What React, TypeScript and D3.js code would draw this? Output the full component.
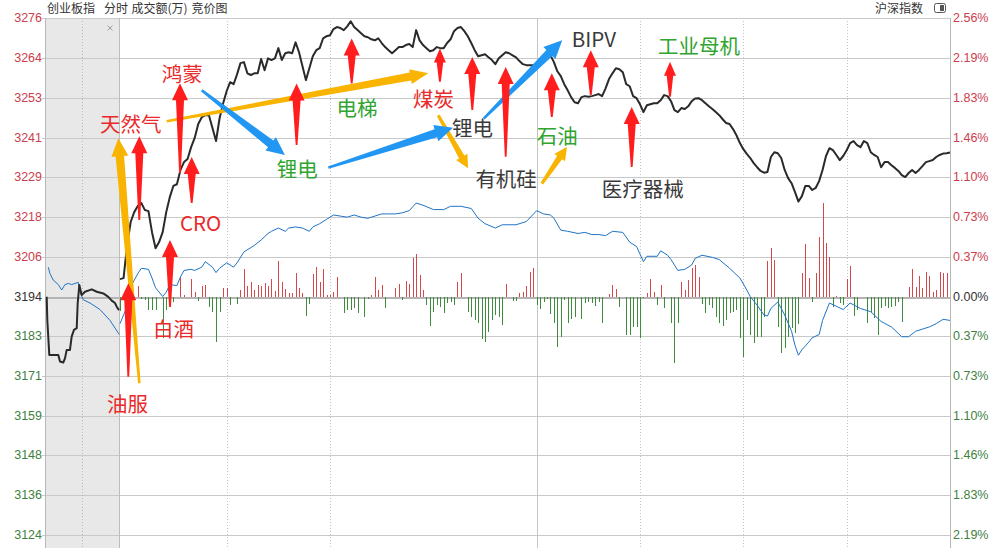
import React from "react";
import * as d3 from "d3";

const WIDTH = 999;
const HEIGHT = 548;
const PRE_CLOSE = 3194.2;
const GRID_STEP_PCT = 2.56 / 7;

const TICK_LEVELS = [7, 6, 5, 4, 3, 2, 1, 0, -1, -2, -3, -4, -5, -6];
const LEFT_TICK_LABELS = ["3276", "3264", "3253", "3241", "3229", "3218", "3206", "3194", "3183", "3171", "3159", "3148", "3136", "3124"];
const RIGHT_TICK_LABELS = ["2.56%", "2.19%", "1.83%", "1.46%", "1.10%", "0.73%", "0.37%", "0.00%", "0.37%", "0.73%", "1.10%", "1.46%", "1.83%", "2.19%"];

const HEADER_LEFT = ["创业板指", "分时", "成交额(万)", "竞价图"];
const HEADER_RIGHT = "沪深指数";

// 9:30 - 15:00, one value per minute (index = minutes since open)
const PRICE = [
  3199.3, 3199.6, 3209.3, 3216.1, 3219.0, 3220.8, 3221.7, 3219.6, 3219.3, 3213.1,
  3208.4, 3210.2, 3213.1, 3219.0, 3223.4, 3226.7, 3227.2, 3231.4, 3233.7, 3234.6,
  3238.1, 3240.8, 3244.9, 3246.9, 3247.5, 3247.5, 3243.7, 3239.9, 3246.6, 3251.0,
  3254.6, 3257.2, 3256.6, 3259.5, 3262.8, 3263.1, 3259.8, 3259.3, 3259.8, 3259.8,
  3264.0, 3260.7, 3264.2, 3263.7, 3264.2, 3267.2, 3263.7, 3265.7, 3266.0, 3265.7,
  3268.9, 3266.0, 3261.9, 3257.8, 3261.3, 3264.8, 3266.6, 3267.2, 3270.1, 3270.7,
  3271.0, 3272.8, 3273.4, 3273.1, 3272.5, 3273.6, 3275.1, 3273.4, 3272.5, 3271.6,
  3270.7, 3270.4, 3269.8, 3269.5, 3270.1, 3268.7, 3267.5, 3266.6, 3265.7, 3266.6,
  3267.5, 3267.5, 3268.1, 3268.4, 3267.5, 3272.5, 3269.5, 3268.1, 3267.2, 3266.3,
  3266.6, 3267.5, 3267.2, 3267.2, 3268.7, 3269.8, 3272.2, 3273.1, 3273.4, 3272.2,
  3270.7, 3268.7, 3266.6, 3264.8, 3265.1, 3265.4, 3264.5, 3263.7, 3262.5, 3264.2,
  3265.1, 3266.0, 3265.7, 3265.1, 3264.5, 3263.4, 3262.5, 3262.2, 3262.2, 3262.2,
  3262.5, 3263.9, 3264.2, 3264.5, 3265.1, 3263.1, 3260.4, 3259.0, 3256.6, 3254.8,
  3252.8, 3251.3, 3251.0, 3252.8, 3253.1, 3252.9, 3253.1, 3253.4, 3253.7, 3253.1,
  3255.4, 3258.1, 3259.8, 3261.3, 3261.0, 3260.1, 3256.6, 3256.0, 3253.1, 3252.5,
  3250.7, 3248.4, 3250.4, 3250.7, 3251.0, 3251.0, 3251.9, 3253.4, 3253.1, 3251.6,
  3249.0, 3248.4, 3249.6, 3249.3, 3250.1, 3251.6, 3252.4, 3252.5, 3251.9, 3251.0,
  3250.1, 3249.3, 3248.4, 3247.5, 3246.3, 3245.2, 3244.9, 3243.4, 3241.6, 3239.3,
  3237.5, 3236.1, 3234.9, 3233.4, 3232.2, 3231.1, 3230.6, 3230.8, 3235.2, 3236.6,
  3236.3, 3234.9, 3231.4, 3229.0, 3227.5, 3224.9, 3222.1, 3223.7, 3226.7, 3226.7,
  3225.5, 3226.1, 3228.1, 3231.4, 3235.5, 3237.8, 3237.2, 3235.8, 3234.3, 3235.5,
  3237.2, 3239.3, 3239.9, 3238.7, 3238.1, 3239.9, 3239.3, 3236.6, 3235.8, 3235.2,
  3232.2, 3233.7, 3233.7, 3232.8, 3232.0, 3231.1, 3229.9, 3229.3, 3230.5, 3231.4,
  3230.5, 3231.4, 3232.5, 3233.7, 3234.0, 3234.3, 3235.2, 3235.8, 3236.2, 3236.3,
  3236.5,
];

// call auction 9:15 - 9:25 (minutes since 9:15)
const AUCTION_T = [0.23, 0.31, 0.58, 1.79, 2.02, 2.46, 2.69, 2.92, 3.36, 3.59, 3.9, 4.27, 4.4, 4.62, 4.94, 5.38, 6.29, 6.97, 7.85, 8.52, 8.98, 9.42, 9.65, 9.96];
const AUCTION_PRICE = [3194.1, 3187.3, 3177.0, 3177.0, 3175.1, 3174.8, 3176.0, 3178.5, 3178.5, 3182.4, 3184.4, 3184.9, 3192.2, 3197.6, 3194.6, 3195.6, 3196.3, 3195.6, 3195.1, 3194.1, 3193.0, 3192.3, 3191.2, 3190.2];

// reference index (沪深) change in %, auction and session
const AUCTION_REF_T = [0.44, 0.67, 1.12, 1.79, 2.25, 2.69, 3.14, 3.59, 4.04, 4.48, 4.71, 5.15, 6.06, 7.4, 8.75, 10];
const AUCTION_REF_PCT = [0.27, 0.21, 0.15, 0.11, 0.06, 0.11, 0.12, 0.11, 0.12, 0.13, 0.04, -0.03, -0.06, -0.12, -0.22, -0.35];

const REF_MIN = [0, 2, 3, 5, 6, 8, 9, 10, 12, 13, 14, 16, 17, 18, 20, 21, 23, 24, 26, 27, 28, 30, 32, 33, 35, 38, 40, 42, 43, 45, 47, 48, 50, 52, 54, 55, 57, 59, 61, 63, 65, 67, 69, 71, 73, 75, 77, 79, 81, 83, 85, 87, 90, 93, 95, 98, 101, 103, 105, 108, 110, 114, 117, 120, 122, 124, 125, 127, 129, 132, 134, 136, 138, 140, 142, 145, 147, 149, 151, 152, 155, 156, 158, 159, 161, 163, 165, 166, 168, 171, 173, 176, 179, 181, 182, 184, 186, 187, 188, 190, 192, 194, 195, 196, 197, 199, 200, 202, 203, 205, 207, 209, 211, 214, 217, 220, 223, 226, 228, 230, 234, 236, 238, 240];
const REF_PCT = [-0.25, -0.09, 0.09, 0.21, 0.26, 0.25, 0.17, 0.08, 0.0, 0.04, 0.11, 0.1, 0.18, 0.24, 0.25, 0.24, 0.27, 0.32, 0.27, 0.22, 0.26, 0.31, 0.27, 0.31, 0.41, 0.47, 0.52, 0.58, 0.6, 0.63, 0.6, 0.63, 0.64, 0.63, 0.6, 0.64, 0.67, 0.71, 0.75, 0.74, 0.73, 0.75, 0.73, 0.72, 0.74, 0.76, 0.76, 0.76, 0.77, 0.79, 0.86, 0.84, 0.8, 0.8, 0.83, 0.83, 0.81, 0.72, 0.67, 0.63, 0.66, 0.66, 0.69, 0.79, 0.76, 0.75, 0.72, 0.61, 0.6, 0.58, 0.59, 0.57, 0.57, 0.56, 0.6, 0.59, 0.5, 0.46, 0.32, 0.37, 0.37, 0.42, 0.38, 0.34, 0.24, 0.25, 0.29, 0.35, 0.38, 0.36, 0.34, 0.26, 0.17, 0.06, 0.0, -0.08, -0.17, -0.18, -0.11, -0.05, -0.17, -0.32, -0.45, -0.54, -0.49, -0.42, -0.38, -0.35, -0.22, -0.06, -0.09, -0.12, -0.06, -0.11, -0.14, -0.23, -0.28, -0.37, -0.37, -0.32, -0.28, -0.25, -0.21, -0.22];

// per-minute net amount bars [minute, value]
const FLOW: [number, number][] = [
  [0, -140], [5, 110], [6, -27], [7, -33], [8, -133], [9, -133], [10, -133], [12, -417], [13, -133], [14, -50], [15, -50],
  [17, 200], [18, 20], [20, 177], [21, 50], [22, -40], [23, 107], [24, 117], [25, -100], [26, -150], [27, -450], [28, -150],
  [29, 90], [30, 90], [31, -83], [33, -73], [34, 67], [35, 273], [36, 107], [37, 150], [38, 67], [39, 117], [40, 107],
  [41, 133], [42, 107], [43, 177], [44, 57], [45, 357], [46, 150], [47, 73], [48, 33], [49, 33], [50, 240], [51, 83],
  [52, 40], [53, -193], [54, -73], [55, 227], [56, 293], [57, 150], [58, 273], [59, 15], [60, 15], [61, 50], [62, 200],
  [64, -167], [65, -133], [66, -133], [67, -117], [68, -167], [70, -200], [71, -27], [72, 15], [73, 193], [74, 67],
  [75, 113], [76, -110], [79, 83], [80, 127], [81, -33], [82, 157], [83, 123], [84, 390], [85, 427], [86, 217], [87, 67],
  [88, -83], [89, -293], [90, -150], [91, -83], [92, -100], [93, -160], [94, -67], [95, -50], [96, -83], [97, 150],
  [98, 233], [100, -150], [101, -200], [102, -233], [103, -267], [104, -427], [105, -450], [106, -350], [107, -233],
  [108, -183], [109, -200], [110, -283], [111, 123], [113, -40], [114, -40], [115, 33], [116, 50], [117, 107], [118, 250],
  [119, 290], [120, -83], [121, -127], [122, -50], [123, -23], [124, -173], [125, -267], [126, -507], [127, -400],
  [128, -33], [129, -260], [130, -227], [131, -200], [133, -227], [134, -60], [135, -50], [136, -67], [137, -93],
  [138, -50], [139, -260], [141, 23], [142, 117], [143, 77], [144, -100], [146, -383], [147, -383], [148, -300],
  [149, -300], [150, -417], [151, -15], [152, 40], [153, 177], [154, 50], [155, -83], [156, 117], [157, -117], [159, -260],
  [160, -667], [161, -267], [162, 150], [163, 67], [164, 167], [165, 283], [166, 317], [167, 193], [168, -73], [169, -167],
  [170, -83], [171, -117], [172, -200], [173, -267], [174, -293], [175, -233], [176, -167], [177, -150], [178, -133],
  [179, -417], [180, -607], [181, -233], [182, -383], [183, -460], [184, -400], [185, -400], [186, -207], [187, 357],
  [188, 483], [189, 367], [190, -307], [191, -560], [192, -517], [193, -400], [194, -317], [195, -367], [196, -273],
  [197, 240], [198, 527], [199, 190], [200, -50], [201, 240], [202, 600], [203, 940], [204, 540], [205, 400], [206, -100],
  [207, 10], [208, -67], [209, -83], [210, 177], [211, 307], [212, -193], [213, -133], [216, -267], [217, -150],
  [218, -217], [219, -383], [220, -117], [221, -93], [222, -117], [223, -100], [224, -93], [225, -50], [226, -250],
  [228, 100], [229, 277], [230, 100], [231, 207], [232, 83], [233, 250], [234, 207], [235, 50], [236, 67], [237, 243],
  [238, 240], [239, 240],
];

// annotations, anchored in (minute, price)
const UP_ARROWS: [number, number, number][] = [
  [2.33, 3198.1, 3170.6], [5.43, 3241.3, 3216.7], [16.87, 3256.9, 3230.5], [20.16, 3235.2, 3221.7],
  [14.06, 3210.8, 3191.1], [50.3, 3256.8, 3238.7], [66.3, 3270.0, 3256.8], [91.9, 3267.1, 3257.3],
  [101.3, 3264.6, 3249.0], [111.0, 3261.7, 3235.3], [124.4, 3259.8, 3247.0], [135.7, 3266.6, 3253.4],
  [147.6, 3249.9, 3232.3], [158.7, 3263.2, 3252.9],
];

type Trend = { kind: "yellow" | "blue"; size: "big" | "mid" | "small"; from: [number, number]; to: [number, number] };
const TREND_ARROWS: Trend[] = [
  { kind: "yellow", size: "big", from: [5.43, 3168.7], to: [-0.48, 3240.7] },
  { kind: "yellow", size: "mid", from: [13.13, 3245.7], to: [88.5, 3259.8] },
  { kind: "yellow", size: "small", from: [91.4, 3247.5], to: [100.1, 3231.9] },
  { kind: "yellow", size: "small", from: [121.5, 3227.4], to: [128.8, 3238.2] },
  { kind: "blue", size: "big", from: [22.97, 3254.8], to: [46.9, 3235.8] },
  { kind: "blue", size: "big", from: [59.5, 3232.1], to: [95.7, 3243.8] },
  { kind: "blue", size: "big", from: [104.6, 3246.5], to: [127.4, 3269.5] },
];

type Label = { text: string; tone: "red" | "green" | "dark"; m: number; p: number };
const LABELS: Label[] = [
  { text: "天然气", tone: "red", m: -5.62, p: 3245.3 },
  { text: "鸿蒙", tone: "red", m: 11.72, p: 3259.8 },
  { text: "CRO", tone: "red", m: 16.87, p: 3216.2 },
  { text: "白酒", tone: "red", m: 9.28, p: 3185.0 },
  { text: "油服", tone: "red", m: -3.65, p: 3162.9 },
  { text: "锂电", tone: "green", m: 44.5, p: 3231.9 },
  { text: "电梯", tone: "green", m: 61.9, p: 3249.9 },
  { text: "煤炭", tone: "red", m: 84.1, p: 3252.5 },
  { text: "锂电", tone: "dark", m: 95.4, p: 3244.1 },
  { text: "有机硅", tone: "dark", m: 102.2, p: 3229.0 },
  { text: "石油", tone: "green", m: 120.0, p: 3241.6 },
  { text: "BIPV", tone: "dark", m: 130.2, p: 3270.3 },
  { text: "工业母机", tone: "green", m: 155.2, p: 3268.1 },
  { text: "医疗器械", tone: "dark", m: 138.9, p: 3226.1 },
];

const DOTTED_MINUTES = [30, 60, 150, 180, 210];
const SOLID_MINUTES = [120];

const TONE: Record<string, string> = { red: "#ea2a2a", green: "#2fa52f", dark: "#3a3a3a" };
const ARROW_FILL: Record<string, string> = { red: "#ff1d1d", yellow: "#f8b400", blue: "#2196f3" };
const ARROW_SIZE: Record<string, number[]> = {
  big: [2.5, 8.5, 17, 18],
  mid: [2.5, 8, 15, 18],
  small: [3, 6, 13, 13],
};

function arrowPath(x0: number, y0: number, x1: number, y1: number, tw: number, nw: number, hw: number, hl: number) {
  const dx = x1 - x0, dy = y1 - y0;
  const len = Math.hypot(dx, dy);
  const ux = dx / len, uy = dy / len;
  const nx = -uy, ny = ux;
  const bx = x1 - ux * hl, by = y1 - uy * hl;
  const pts = [
    [x0 + (nx * tw) / 2, y0 + (ny * tw) / 2],
    [bx + (nx * nw) / 2, by + (ny * nw) / 2],
    [bx + (nx * hw) / 2, by + (ny * hw) / 2],
    [x1, y1],
    [bx - (nx * hw) / 2, by - (ny * hw) / 2],
    [bx - (nx * nw) / 2, by - (ny * nw) / 2],
    [x0 - (nx * tw) / 2, y0 - (ny * tw) / 2],
  ];
  return "M" + pts.map((p) => p[0].toFixed(1) + "," + p[1].toFixed(1)).join("L") + "Z";
}

export default function App() {
  const left = 45;
  const right = 950;
  const top = 18.3;
  const x = d3.scaleLinear().domain([0, 30, 240]).range([120, 226.7, 950]);
  const xa = d3.scaleLinear().domain([0, 10]).range([left, 119.3]);
  const y = d3.scaleLinear().domain([-2.56, 2.56]).range([574.7, top]);
  const pct = (p: number) => (p / PRE_CLOSE - 1) * 100;
  const yp = (p: number) => y(pct(p));
  const barH = d3.scaleLinear().domain([0, 1000]).range([0, 100]);
  const y0 = y(0);

  const priceLine = d3.line<number>().x((_, i) => x(i)).y((d) => yp(d))(PRICE) || "";
  const auctionLine = d3.line<number>().x((_, i) => xa(AUCTION_T[i])).y((d) => yp(d))(AUCTION_PRICE) || "";
  const refLine = d3.line<number>().x((_, i) => x(REF_MIN[i])).y((d) => y(d))(REF_PCT) || "";
  const auctionRefLine = d3.line<number>().x((_, i) => xa(AUCTION_REF_T[i])).y((d) => y(d))(AUCTION_REF_PCT) || "";

  const sans = "'Liberation Sans', Arial, sans-serif";
  const cjk = "'Noto Sans CJK SC', 'Noto Sans', sans-serif";

  return (
    <svg
      width={WIDTH}
      height={HEIGHT}
      viewBox={`0 0 ${WIDTH} ${HEIGHT}`}
      style={{ position: "absolute", left: 0, top: 0, background: "#fff" }}
    >
      {/* auction background */}
      <rect x={left} y={top} width={xa(10) - left} height={HEIGHT - top} fill="#e8e8e8" />

      {/* horizontal grid */}
      {TICK_LEVELS.map((k) => (
        <line
          key={"h" + k}
          x1={k === 0 ? left : left - 3}
          x2={right}
          y1={Math.round(y(k * GRID_STEP_PCT)) + 0.5}
          y2={Math.round(y(k * GRID_STEP_PCT)) + 0.5}
          stroke={k === 0 ? "#b4b4b4" : "#c9c9c9"}
          strokeWidth={k === 0 ? 2 : 1}
          shapeRendering="crispEdges"
        />
      ))}

      {/* vertical grid */}
      <line x1={Math.round(xa(5)) + 0.5} x2={Math.round(xa(5)) + 0.5} y1={top} y2={HEIGHT} stroke="#b8b8b8" strokeDasharray="1,2" shapeRendering="crispEdges" />
      <line x1={Math.round(xa(10)) + 0.5} x2={Math.round(xa(10)) + 0.5} y1={top} y2={HEIGHT} stroke="#bdbdbd" shapeRendering="crispEdges" />
      {DOTTED_MINUTES.map((m) => (
        <line key={"v" + m} x1={Math.round(x(m)) + 0.5} x2={Math.round(x(m)) + 0.5} y1={top} y2={HEIGHT} stroke="#c4c4c4" strokeDasharray="1,2" shapeRendering="crispEdges" />
      ))}
      {SOLID_MINUTES.map((m) => (
        <line key={"s" + m} x1={Math.round(x(m)) + 0.5} x2={Math.round(x(m)) + 0.5} y1={top} y2={HEIGHT} stroke="#c4c4c4" shapeRendering="crispEdges" />
      ))}
      <line x1={left + 0.5} x2={left + 0.5} y1={top} y2={HEIGHT} stroke="#b8b8b8" shapeRendering="crispEdges" />
      <line x1={right + 0.5} x2={right + 0.5} y1={top} y2={HEIGHT} stroke="#b8b8b8" shapeRendering="crispEdges" />

      {/* axis labels */}
      {TICK_LEVELS.map((k, i) => {
        const col = k > 0 ? "#cc3d4d" : k < 0 ? "#3f7f3f" : "#333";
        const yy = y(k * GRID_STEP_PCT);
        return (
          <g key={"t" + k} fontFamily={sans} fontSize={12.5} fill={col}>
            <text x={42} y={yy} textAnchor="end" dominantBaseline="central">{LEFT_TICK_LABELS[i]}</text>
            <text x={953} y={yy} textAnchor="start" dominantBaseline="central">{RIGHT_TICK_LABELS[i]}</text>
          </g>
        );
      })}

      {/* close mark in auction pane */}
      <g stroke="#a0a0a0" strokeWidth={1}>
        <line x1={107.5} y1={25.5} x2={112.5} y2={30.5} />
        <line x1={112.5} y1={25.5} x2={107.5} y2={30.5} />
      </g>

      {/* flow bars */}
      {FLOW.map(([m, v]) => {
        const xx = Math.round(x(m)) + 0.5;
        const h = barH(Math.abs(v));
        return (
          <line
            key={"b" + m}
            x1={xx}
            x2={xx}
            y1={y0}
            y2={v > 0 ? y0 - h : y0 + h}
            stroke={v > 0 ? "#d4484c" : "#3c8c3c"}
            strokeWidth={1}
            shapeRendering="crispEdges"
          />
        );
      })}

      {/* reference index line */}
      <path d={auctionRefLine} fill="none" stroke="#1f74c4" strokeWidth={1} />
      <path d={refLine} fill="none" stroke="#1f74c4" strokeWidth={1} />

      {/* price line */}
      <path d={auctionLine} fill="none" stroke="#2a2a2a" strokeWidth={2} strokeLinejoin="round" />
      <path d={priceLine} fill="none" stroke="#2a2a2a" strokeWidth={2} strokeLinejoin="round" />

      {/* annotation arrows */}
      {TREND_ARROWS.map((a, i) => {
        const s = ARROW_SIZE[a.size];
        return (
          <path
            key={"ta" + i}
            d={arrowPath(x(a.from[0]), yp(a.from[1]), x(a.to[0]), yp(a.to[1]), s[0], s[1], s[2], s[3])}
            fill={ARROW_FILL[a.kind]}
          />
        );
      })}
      {UP_ARROWS.map(([m, tip, base], i) => {
        const xx = x(m);
        const y1 = yp(tip);
        const yb = yp(base);
        const len = yb - y1;
        const hw = len > 40 ? 16 : 12;
        const hl = len > 40 ? 17 : 14;
        const nw = len > 40 ? 8 : 6.5;
        return <path key={"ua" + i} d={arrowPath(xx, yb, xx, y1, 1.8, nw, hw, hl)} fill={ARROW_FILL.red} />;
      })}

      {/* annotation labels */}
      {LABELS.map((l, i) => (
        <text
          key={"l" + i}
          x={x(l.m)}
          y={yp(l.p)}
          dominantBaseline="central"
          fontFamily={cjk}
          fontSize={20.5}
          fill={TONE[l.tone]}
        >
          {l.text}
        </text>
      ))}

      {/* header */}
      <g fontFamily={cjk} fontSize={12} fill="#333">
        <text x={47} y={13}>{HEADER_LEFT[0]}</text>
        <text x={104} y={13}>{HEADER_LEFT[1]}</text>
        <text x={131.5} y={13}>{HEADER_LEFT[2]}</text>
        <text x={191.5} y={13}>{HEADER_LEFT[3]}</text>
        <text x={875} y={13}>{HEADER_RIGHT}</text>
      </g>
      <rect x={934.5} y={3.5} width={11} height={9} rx={2} fill="#fff" stroke="#555" />
      <rect x={940} y={5} width={4} height={6} fill="#555" />
    </svg>
  );
}
